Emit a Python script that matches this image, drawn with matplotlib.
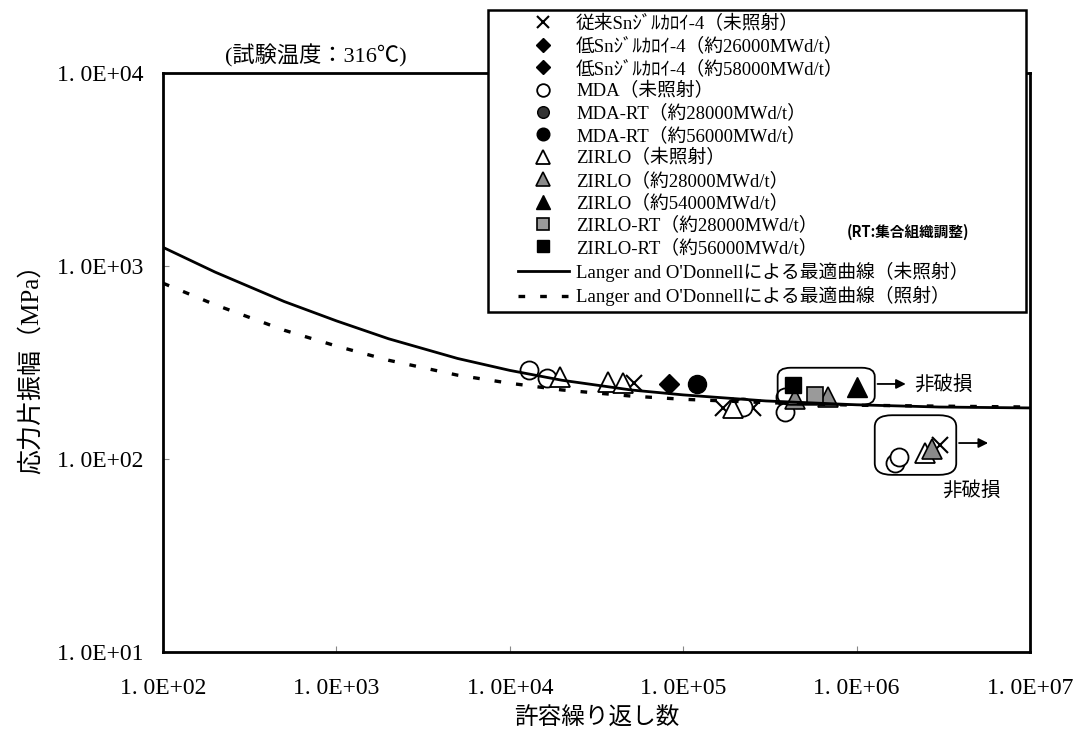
import numpy as np
import matplotlib
matplotlib.use("Agg")
import matplotlib.pyplot as plt
from matplotlib.patches import FancyBboxPatch, Rectangle

plt.rcParams['font.family'] = ['Liberation Serif', 'Noto Sans CJK JP']

# best-fit curves (cycles, MPa)
curve_n = [1e2, 2e2, 5e2, 1e3, 2e3, 5e3, 1e4, 2e4, 5e4, 1e5, 3e5, 1e6, 3e6, 1e7]
curve_unirr = [1250, 930, 655, 520, 420, 332, 288, 256, 228, 215, 200, 191, 186, 184]
curve_irr = [815, 630, 465, 385, 325, 272, 247, 228, 212, 204, 196, 190, 188, 186]

# test points (cycles, stress amplitude MPa)
zry_n = [5.2e4, 1.69e5, 2.53e5, 3.03e6]
zry_s = [248, 184, 184, 118]
lowsn26_n = [8.3e4]
lowsn26_s = [245]
lowsn58_n = []
lowsn58_s = []
mda_n = [1.29e4, 1.64e4, 2.21e5, 3.86e5, 3.86e5, 1.66e6, 1.76e6]
mda_s = [289, 263, 186, 210, 175, 95, 102]
mdart28_n = []
mdart28_s = []
mdart56_n = [1.2e5]
mdart56_s = [245]
zirlo_n = [1.94e4, 3.68e4, 4.5e4, 1.94e5, 2.48e6]
zirlo_s = [266, 250, 248, 184, 107]
zirlo28_n = [4.42e5, 6.84e5, 2.72e6]
zirlo28_s = [205, 210, 113]
zirlo54_n = [1.0e6]
zirlo54_s = [236]
zirlort28_n = [5.75e5]
zirlort28_s = [215]
zirlort56_n = [4.3e5]
zirlort56_s = [242]

xticks = [1e2, 1e3, 1e4, 1e5, 1e6, 1e7]
xlabels = ['1. 0E+02', '1. 0E+03', '1. 0E+04', '1. 0E+05', '1. 0E+06', '1. 0E+07']
yticks = [1e1, 1e2, 1e3, 1e4]
ylabels = ['1. 0E+01', '1. 0E+02', '1. 0E+03', '1. 0E+04']

fig = plt.figure(figsize=(10.83, 7.38), dpi=100)
ax = fig.add_axes([0.1505, 0.1165, 0.8005, 0.7845])
ax.set_xscale('log')
ax.set_yscale('log')
ax.set_xlim(1e2, 1e7)
ax.set_ylim(1e1, 1e4)

ms = 12
ax.plot(zry_n, zry_s, 'x', color='black', ms=ms, mew=1.5, ls='none',
        label='従来Snｼﾞﾙｶﾛｲ-4（未照射）')
ax.plot(lowsn26_n, lowsn26_s, 'D', color='black', ms=10, ls='none',
        label='低Snｼﾞﾙｶﾛｲ-4（約26000MWd/t）')
ax.plot(lowsn58_n, lowsn58_s, 'D', color='black', ms=10, ls='none',
        label='低Snｼﾞﾙｶﾛｲ-4（約58000MWd/t）')
ax.plot(mda_n, mda_s, 'o', mfc='white', mec='black', ms=ms + 1, mew=1.3, ls='none',
        label='MDA（未照射）')
ax.plot(mdart28_n, mdart28_s, 'o', mfc='#333333', mec='black', ms=ms, ls='none',
        label='MDA-RT（約28000MWd/t）')
ax.plot(mdart56_n, mdart56_s, 'o', color='black', ms=ms + 1, ls='none',
        label='MDA-RT（約56000MWd/t）')
ax.plot(zirlo_n, zirlo_s, '^', mfc='white', mec='black', ms=ms + 2, mew=1.3, ls='none',
        label='ZIRLO（未照射）')
ax.plot(zirlo28_n, zirlo28_s, '^', mfc='#8a8a8a', mec='black', ms=ms + 2, mew=1.2, ls='none',
        label='ZIRLO（約28000MWd/t）')
ax.plot(zirlo54_n, zirlo54_s, '^', color='black', ms=ms + 2, ls='none',
        label='ZIRLO（約54000MWd/t）')
ax.plot(zirlort28_n, zirlort28_s, 's', mfc='#9a9a9a', mec='black', ms=ms, mew=1.2, ls='none',
        label='ZIRLO-RT（約28000MWd/t）')
ax.plot(zirlort56_n, zirlort56_s, 's', color='black', ms=ms, ls='none',
        label='ZIRLO-RT（約56000MWd/t）')
ax.plot(curve_n, curve_unirr, '-', color='black', lw=2.0,
        label="Langer and O'Donnellによる最適曲線（未照射）")
ax.plot(curve_n, curve_irr, color='black', lw=2.4, ls=(0, (2, 4.5)),
        label="Langer and O'Donnellによる最適曲線（照射）")

# non-failure boxes
box1 = FancyBboxPatch((0.709, 0.427), 0.112, 0.064, boxstyle='round,pad=0,rounding_size=0.015',
                      transform=ax.transAxes, fc='none', ec='black', lw=1.3, zorder=5)
box2 = FancyBboxPatch((0.821, 0.306), 0.094, 0.103, boxstyle='round,pad=0,rounding_size=0.02',
                      transform=ax.transAxes, fc='none', ec='black', lw=1.3, zorder=5)
ax.add_patch(box1)
ax.add_patch(box2)
ax.annotate('', xy=(0.860, 0.463), xytext=(0.821, 0.463), xycoords='axes fraction',
            arrowprops=dict(arrowstyle='-|>', color='black', lw=1.3, mutation_scale=14))
ax.annotate('', xy=(0.955, 0.361), xytext=(0.915, 0.361), xycoords='axes fraction',
            arrowprops=dict(arrowstyle='-|>', color='black', lw=1.3, mutation_scale=14))
ax.text(0.866, 0.463, '非破損', transform=ax.transAxes, ha='left', va='center',
        fontsize=14, family=['Noto Sans CJK JP'])
ax.text(0.933, 0.28, '非破損', transform=ax.transAxes, ha='center', va='center',
        fontsize=14, family=['Noto Sans CJK JP'])

ax.text(0.072, 1.03, '(試験温度：316℃)', transform=ax.transAxes, ha='left', va='center',
        fontsize=16)

ax.set_xticks(xticks)
ax.set_xticklabels(xlabels)
ax.set_yticks(yticks)
ax.set_yticklabels(ylabels)
ax.minorticks_off()
ax.tick_params(direction='in', length=4, width=0.8, labelsize=17, color='#888888')
ax.tick_params(axis='x', pad=19)
ax.tick_params(axis='y', pad=14)
for sp in ax.spines.values():
    sp.set_linewidth(2.0)

ax.set_xlabel('許容繰り返し数', fontsize=17, labelpad=6)
ax.set_ylabel('応力片振幅（MPa）', fontsize=18, labelpad=10)

# legend box drawn on the figure
frame = Rectangle((488 / 1083, 1 - 312 / 738), 538 / 1083, 302 / 738,
                  transform=fig.transFigure, fc='white', ec='black', lw=1.8, zorder=1)
fig.patches.append(frame)
handles, labels = ax.get_legend_handles_labels()
leg = fig.legend(handles, labels, loc='upper left',
                 bbox_to_anchor=(518 / 1083, 1 - 15 / 738), fontsize=13.5,
                 labelspacing=0.24, handlelength=2.7, markerscale=0.7, borderpad=0,
                 borderaxespad=0, frameon=False, handletextpad=0.4)
leg.set_zorder(2)

fig.text(0.838, 0.686, '(RT:集合組織調整)', ha='center', va='center', fontsize=10.5,
         fontweight='bold', family=['Noto Sans CJK JP'], zorder=3)

fig.savefig('out.png', dpi=100)
